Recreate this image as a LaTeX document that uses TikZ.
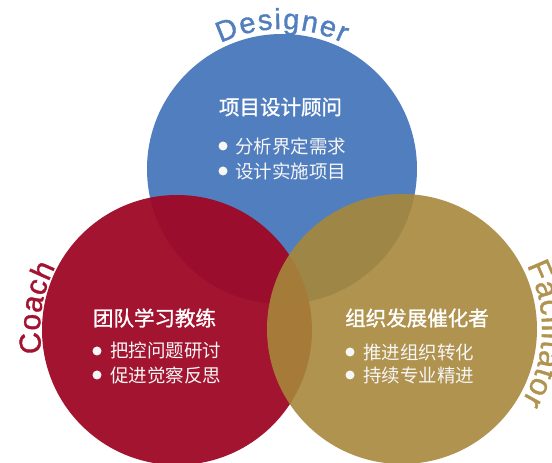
\documentclass[tikz,border=0pt]{standalone}
\usepackage{fontspec}
\setmainfont{Liberation Sans}
\newfontfamily\lblfont{Liberation Sans}[FakeBold=1.2]
\newfontfamily\cjk{Noto Sans CJK SC}
\newfontfamily\cjkt{Noto Sans CJK SC}[FakeBold=1.2]
\usetikzlibrary{decorations.text}
\definecolor{cblue}{RGB}{81,126,191}
\definecolor{cred}{RGB}{158,7,37}
\definecolor{credtxt}{RGB}{163,19,48}
\definecolor{cgold}{RGB}{167,135,59}
\definecolor{cgoldtxt}{RGB}{176,147,79}
\definecolor{txtw}{RGB}{246,246,246}
\begin{document}
\begin{tikzpicture}[x=1pt,y=1pt,
  venn/.style={circle,minimum size=270pt,inner sep=0pt,draw=none},
  ttl/.style={font=\cjkt\fontsize{20.5}{22}\selectfont,text=white,inner sep=0pt},
  itm/.style={font=\cjk\fontsize{18.5}{20}\selectfont,text=txtw,inner sep=0pt,anchor=west},
  dot/.style={circle,fill=txtw,minimum size=9pt,inner sep=0pt}]
\useasboundingbox (0,0) rectangle (552,463);
\clip (0,0) rectangle (552,463);
% circles
\node[venn,fill=cblue] (blue) at (282,294) {};
\node[venn,fill=cred,fill opacity=0.95] (red) at (177,133) {};
\node[venn,fill=cgold,fill opacity=0.9] (gold) at (402,134) {};
% curved labels
\path[decorate,decoration={text along path,text align={fit to path},text color=cblue,
  text={|\lblfont\fontsize{29}{29}\selectfont|Designer}}]
  ([shift={(116:140)}]blue.center) arc[start angle=116,end angle=64,radius=140];
\path[decorate,decoration={text along path,text align={fit to path},text color=credtxt,
  text={|\lblfont\fontsize{30}{30}\selectfont|Coach}}]
  ([shift={(189.7:137)}]red.center) arc[start angle=189.7,end angle=152.5,radius=137];
\path[decorate,decoration={text along path,text align={fit to path},text color=cgoldtxt,
  text={|\lblfont\fontsize{31}{31}\selectfont|Facilitator}}]
  ([shift={(27:140)}]gold.center) arc[start angle=27,end angle=-31,radius=140];
% blue texts
\node[ttl] (bt) at (280.5,356) {项目设计顾问};
\node[dot] (bd1) at (223,317) {};
\node[itm] (bi1) at (235,317) {分析界定需求};
\node[dot] (bd2) at (223,292) {};
\node[itm] (bi2) at (235,292) {设计实施项目};
% red texts
\node[ttl] (rt) at (154.5,145) {团队学习教练};
\node[dot] (rd1) at (97,112) {};
\node[itm] (ri1) at (110,112) {把控问题研讨};
\node[dot] (rd2) at (97,88) {};
\node[itm] (ri2) at (110,88) {促进觉察反思};
% gold texts
\node[ttl] (gt) at (417,145) {组织发展催化者};
\node[dot] (gd1) at (350,111) {};
\node[itm] (gi1) at (363,111) {推进组织转化};
\node[dot] (gd2) at (350,88) {};
\node[itm] (gi2) at (363,88) {持续专业精进};
\end{tikzpicture}
\end{document}
